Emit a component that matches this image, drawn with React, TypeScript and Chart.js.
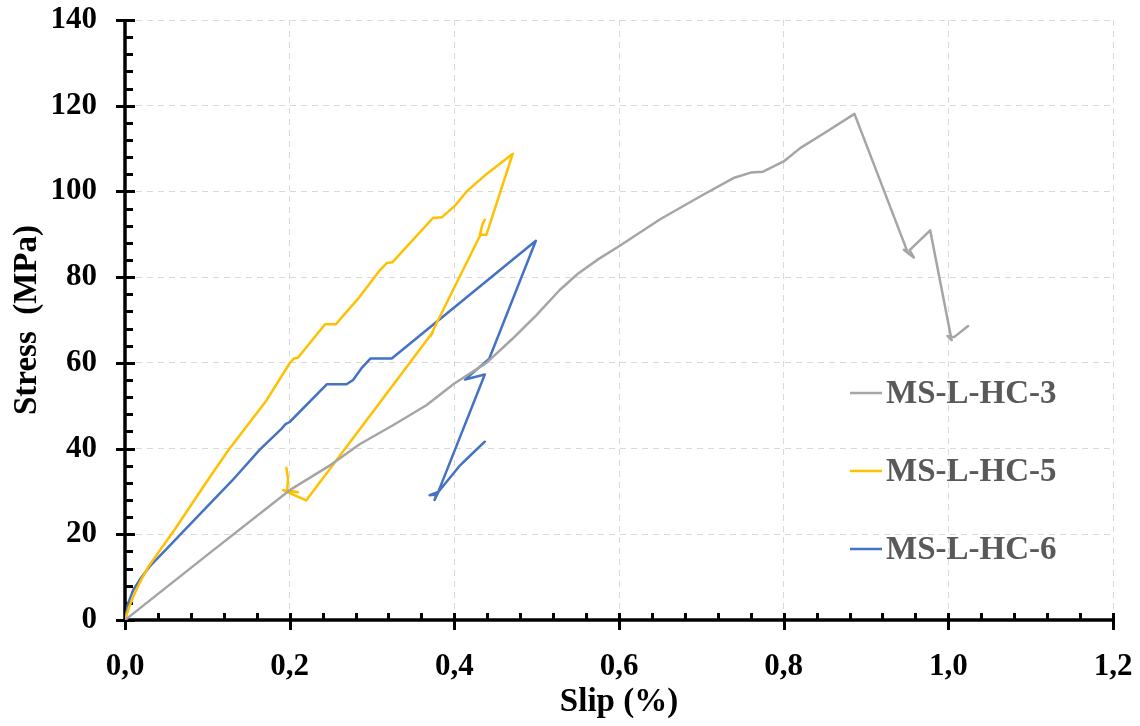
import React, { useEffect, useRef } from 'react';
import { Chart, registerables } from 'chart.js';

Chart.register(...registerables);

const seriesNames = ['MS-L-HC-3', 'MS-L-HC-5', 'MS-L-HC-6'];
const seriesColors = ['#A5A5A5', '#FFC000', '#4472C4'];

const hc3Slip = [0, 0.1, 0.2, 0.25, 0.285, 0.326, 0.366, 0.4, 0.439, 0.47, 0.5, 0.528, 0.55, 0.575, 0.6, 0.65, 0.7, 0.74, 0.76, 0.775, 0.8, 0.82, 0.85, 0.886, 0.951, 0.946, 0.958, 0.953, 0.978, 1.004, 0.999, 1.007, 1.024];
const hc3Stress = [0, 15.2, 30.3, 36.2, 41.0, 45.5, 50.1, 55.2, 60.0, 65.5, 71.2, 77.0, 80.8, 84.2, 87.2, 93.5, 99.0, 103.2, 104.4, 104.6, 107.0, 110.1, 113.7, 118.1, 85.6, 86.4, 84.6, 86.3, 90.9, 65.3, 66.3, 66.0, 68.6];

const hc5Slip = [0, 0.005, 0.01, 0.02, 0.028, 0.04, 0.06, 0.1, 0.1255, 0.172, 0.2, 0.205, 0.21, 0.243, 0.256, 0.285, 0.31, 0.318, 0.325, 0.374, 0.385, 0.4, 0.415, 0.44, 0.471, 0.439, 0.431, 0.434, 0.437, 0.434, 0.431, 0.376, 0.371, 0.374, 0.22, 0.192, 0.21, 0.197, 0.198, 0.196];
const hc5Stress = [0, 3, 5.5, 9.5, 12.3, 15.6, 21, 32.5, 39.6, 51.3, 59.9, 61.0, 61.2, 69.0, 69.0, 75.4, 81.7, 83.3, 83.5, 93.8, 94.0, 96.5, 100, 104.2, 108.8, 89.9, 89.9, 92.3, 93.4, 92.3, 89.6, 68.3, 66.2, 67.2, 27.9, 30.3, 29.8, 30.3, 33.0, 35.5];

const hc6Slip = [0, 0.004, 0.01, 0.02, 0.03, 0.05, 0.07, 0.1, 0.13, 0.164, 0.19, 0.195, 0.2, 0.245, 0.269, 0.277, 0.287, 0.298, 0.324, 0.499, 0.4425, 0.413, 0.437, 0.3805, 0.37, 0.378, 0.376, 0.381, 0.407, 0.42, 0.437];
const hc6Stress = [0, 4, 7, 10, 12.5, 16.5, 20.5, 26.5, 32.5, 39.8, 44.6, 45.7, 46.2, 55.0, 55.0, 56.0, 58.7, 61.0, 61.0, 88.5, 61.0, 56.1, 57.3, 29.9, 29.1, 29.3, 28.0, 30.0, 36.1, 38.5, 41.6];

const xTickLabels = ['0,0', '0,2', '0,4', '0,6', '0,8', '1,0', '1,2'];
const yTickLabels = ['0', '20', '40', '60', '80', '100', '120', '140'];
const xTitle = 'Slip (%)';
const yTitle = 'Stress  (MPa)';

const FONT = "'Liberation Serif', 'Times New Roman', serif";

function toPoints(xs: number[], ys: number[]) {
  return xs.map((x, i) => ({ x, y: ys[i] }));
}

const axesPlugin = {
  id: 'excelAxes',
  beforeDatasetsDraw(chart: any) {
    const { ctx, chartArea, scales } = chart;
    const xs = scales.x;
    const ys = scales.y;
    const x0 = xs.getPixelForValue(0);
    const y0 = ys.getPixelForValue(0);
    ctx.save();
    ctx.strokeStyle = '#000';
    ctx.lineCap = 'butt';
    ctx.lineWidth = 3;
    for (let i = 0; i <= 35; i++) {
      const v = i * 4;
      const p = Math.round(ys.getPixelForValue(v)) + 0.5;
      const major = i % 5 === 0;
      ctx.beginPath();
      if (major) {
        ctx.moveTo(x0 - 9, p);
        ctx.lineTo(x0 + 10, p);
      } else {
        ctx.moveTo(x0, p);
        ctx.lineTo(x0 + 8, p);
      }
      ctx.stroke();
    }
    for (let i = 0; i <= 30; i++) {
      const v = i * 0.04;
      const p = Math.round(xs.getPixelForValue(v)) + 0.5;
      const major = i % 5 === 0;
      ctx.beginPath();
      if (major) {
        ctx.moveTo(p, y0 + 10);
        ctx.lineTo(p, y0 - 7);
      } else {
        ctx.moveTo(p, y0);
        ctx.lineTo(p, y0 - 7);
      }
      ctx.stroke();
    }
    ctx.lineWidth = 3.5;
    ctx.beginPath();
    ctx.moveTo(x0, chartArea.top);
    ctx.lineTo(x0, y0 + 1.5);
    ctx.stroke();
    ctx.beginPath();
    ctx.moveTo(x0 - 1.5, y0);
    ctx.lineTo(chartArea.right, y0);
    ctx.stroke();
    ctx.restore();
  },
};

const legendPlugin = {
  id: 'insideLegend',
  afterDraw(chart: any) {
    const { ctx } = chart;
    const ys = [393, 471, 549];
    ctx.save();
    ctx.font = `bold 33px ${FONT}`;
    ctx.textBaseline = 'middle';
    ctx.textAlign = 'left';
    seriesNames.forEach((name, i) => {
      ctx.strokeStyle = seriesColors[i];
      ctx.lineWidth = 2.5;
      ctx.beginPath();
      ctx.moveTo(850, ys[i]);
      ctx.lineTo(882, ys[i]);
      ctx.stroke();
      ctx.fillStyle = '#595959';
      ctx.fillText(name, 886, ys[i] + 1);
    });
    ctx.restore();
  },
};

export default function App() {
  const canvasRef = useRef<HTMLCanvasElement | null>(null);

  useEffect(() => {
    const canvas = canvasRef.current;
    if (!canvas) return;
    const datasets = [
      { label: seriesNames[0], data: toPoints(hc3Slip, hc3Stress) },
      { label: seriesNames[1], data: toPoints(hc5Slip, hc5Stress) },
      { label: seriesNames[2], data: toPoints(hc6Slip, hc6Stress) },
    ].map((d, i) => ({
      ...d,
      showLine: true,
      borderColor: seriesColors[i],
      backgroundColor: seriesColors[i],
      borderWidth: 2.5,
      pointRadius: 0,
      pointHoverRadius: 0,
      tension: 0,
      fill: false,
      borderJoinStyle: 'round' as const,
      borderCapStyle: 'round' as const,
    }));

    const chart = new Chart(canvas, {
      type: 'scatter',
      data: { datasets },
      options: {
        animation: false,
        responsive: false,
        maintainAspectRatio: false,
        layout: { padding: { top: 20, right: 27, bottom: 0, left: 0 } },
        plugins: {
          legend: { display: false },
          tooltip: { enabled: false },
        },
        scales: {
          x: {
            type: 'linear',
            min: 0,
            max: 1.2,
            afterFit: (scale: any) => {
              scale.height = 106;
              scale.paddingLeft = 0;
              scale.paddingRight = 0;
            },
            ticks: {
              stepSize: 0.2,
              autoSkip: false,
              maxRotation: 0,
              padding: 28,
              color: '#000',
              font: { family: FONT, weight: 'bold', size: 31 },
              callback: (_v: any, i: number) => xTickLabels[i],
            },
            grid: { color: '#D9D9D9', lineWidth: 1, drawTicks: false },
            border: { display: false, dash: [6, 5] },
            title: {
              display: true,
              text: xTitle,
              color: '#000',
              font: { family: FONT, weight: 'bold', size: 33, lineHeight: 1.2 },
              padding: { top: 0, bottom: 4 },
            },
          },
          y: {
            type: 'linear',
            min: 0,
            max: 140,
            afterFit: (scale: any) => {
              scale.width = 125;
              scale.paddingTop = 0;
              scale.paddingBottom = 0;
            },
            ticks: {
              stepSize: 20,
              autoSkip: false,
              padding: 28,
              color: '#000',
              font: { family: FONT, weight: 'bold', size: 31 },
              callback: (_v: any, i: number) => yTickLabels[i],
            },
            grid: { color: '#D9D9D9', lineWidth: 1, drawTicks: false },
            border: { display: false, dash: [6, 5] },
            title: {
              display: true,
              text: yTitle,
              color: '#000',
              font: { family: FONT, weight: 'bold', size: 33, lineHeight: 1.2 },
              padding: { top: 8, bottom: 0 },
            },
          },
        },
      },
      plugins: [axesPlugin, legendPlugin],
    } as any);

    return () => {
      chart.destroy();
    };
  }, []);

  return (
    <div style={{ position: 'absolute', left: 0, top: 0, width: 1140, height: 726, background: '#fff' }}>
      <canvas ref={canvasRef} width={1140} height={726} style={{ display: 'block' }} />
    </div>
  );
}
